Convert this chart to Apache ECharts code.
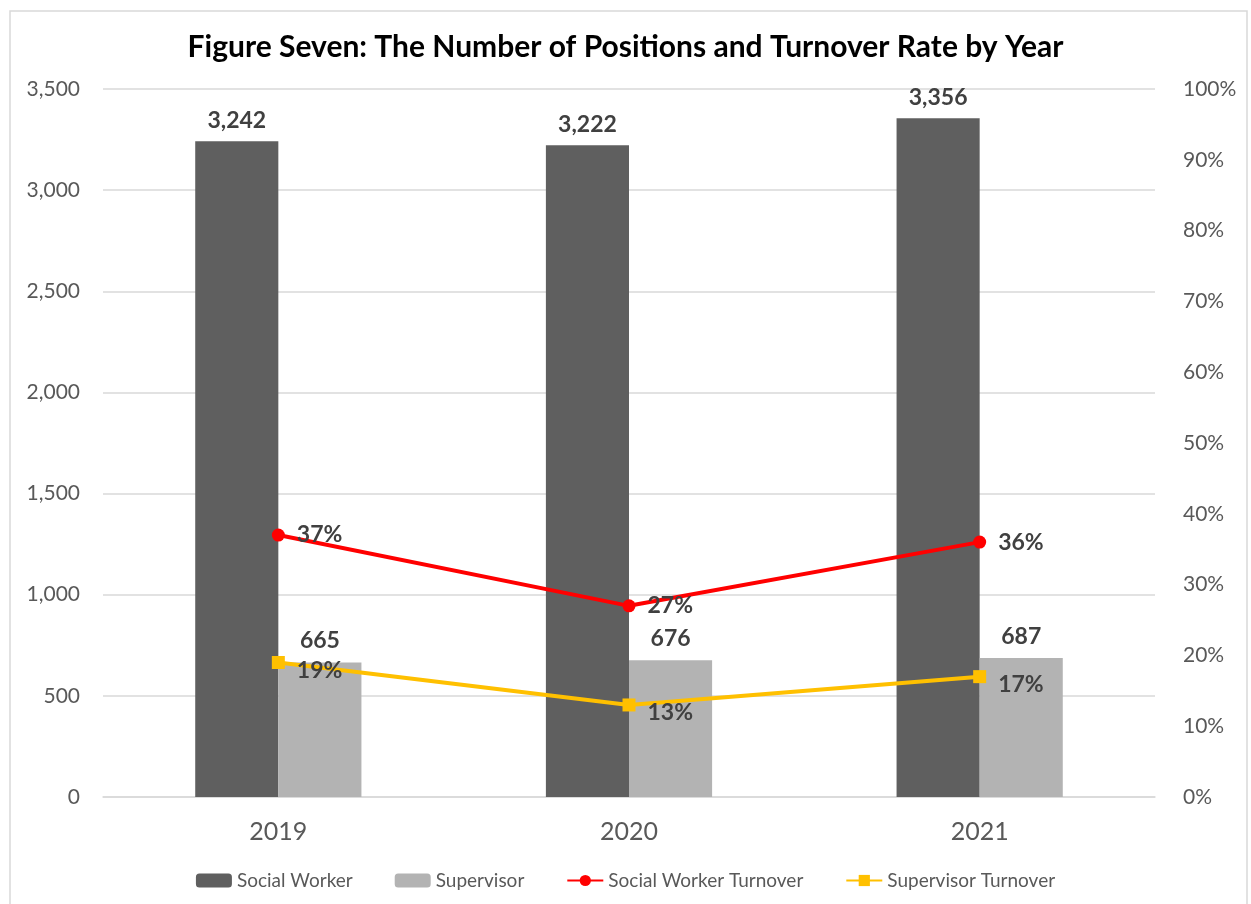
<!DOCTYPE html>
<html>
<head>
<meta charset="utf-8">
<script src="https://cdn.jsdelivr.net/npm/echarts@6/dist/echarts.min.js"></script>
<style>
  html, body { margin: 0; padding: 0; background: #fff; }
  #chart { width: 1251px; height: 904px; }
</style>
</head>
<body>
<div id="chart"></div>
<script>
// values
const years = ["2019", "2020", "2021"];
const socialWorker = [3242, 3222, 3356];
const supervisor = [665, 676, 687];
const socialWorkerTurnover = [37, 27, 36];
const supervisorTurnover = [19, 13, 17];
const leftTicks = [0, 500, 1000, 1500, 2000, 2500, 3000, 3500];
const rightTicks = [0, 10, 20, 30, 40, 50, 60, 70, 80, 90, 100];

const font = "Lato, 'Open Sans', sans-serif";
const labelColor = "#404040";
const axisColor = "#595959";

const chart = echarts.init(document.getElementById("chart"));

chart.setOption({
  animation: false,
  textStyle: { fontFamily: font },
  graphic: [{
    type: "rect",
    shape: { x: 10, y: 11, width: 1237, height: 900 },
    style: { fill: "none", stroke: "#d9d9d9", lineWidth: 1.5 },
    silent: true
  }],
  title: {
    text: "Figure Seven: The Number of Positions and Turnover Rate by Year",
    left: "center",
    top: 27,
    textStyle: { fontFamily: font, fontSize: 30, fontWeight: "bold", color: "#000" }
  },
  grid: { left: 103, right: 96, top: 89, bottom: 107 },
  legend: {
    bottom: 9,
    left: "center",
    itemWidth: 36,
    itemHeight: 14,
    itemGap: 42,
    textStyle: { color: axisColor, fontSize: 19, fontFamily: font },
    data: ["Social Worker", "Supervisor", "Social Worker Turnover", "Supervisor Turnover"]
  },
  xAxis: {
    type: "category",
    data: years,
    axisLine: { lineStyle: { color: "#d9d9d9", width: 1.5 } },
    axisTick: { show: false },
    axisLabel: { color: axisColor, fontSize: 25, margin: 22 }
  },
  yAxis: [
    {
      type: "value",
      min: leftTicks[0],
      max: leftTicks[leftTicks.length - 1],
      interval: leftTicks[1] - leftTicks[0],
      axisLine: { show: false },
      axisTick: { show: false },
      splitLine: { lineStyle: { color: "#d9d9d9", width: 1.5 } },
      axisLabel: {
        color: axisColor, fontSize: 21, margin: 23,
        formatter: v => v.toLocaleString("en-US")
      }
    },
    {
      type: "value",
      min: rightTicks[0],
      max: rightTicks[rightTicks.length - 1],
      interval: rightTicks[1] - rightTicks[0],
      axisLine: { show: false },
      axisTick: { show: false },
      splitLine: { show: false },
      axisLabel: { color: axisColor, fontSize: 21, margin: 28, formatter: "{value}%" }
    }
  ],
  series: [
    {
      name: "Social Worker",
      type: "bar",
      data: socialWorker,
      color: "#5f5f5f",
      barWidth: "23.7%",
      barGap: "0%",
      label: {
        show: true, position: "top", distance: 9,
        color: labelColor, fontSize: 23, fontWeight: "bold",
        formatter: p => p.value.toLocaleString("en-US")
      }
    },
    {
      name: "Supervisor",
      type: "bar",
      data: supervisor,
      color: "#b3b3b3",
      barWidth: "23.7%",
      label: {
        show: true, position: "top", distance: 10,
        color: labelColor, fontSize: 23, fontWeight: "bold",
        formatter: p => p.value.toLocaleString("en-US")
      }
    },
    {
      name: "Social Worker Turnover",
      type: "line",
      yAxisIndex: 1,
      data: socialWorkerTurnover,
      color: "#ff0000",
      symbol: "circle",
      symbolSize: 13,
      lineStyle: { width: 4 },
      label: {
        show: true, position: "right", distance: 12,
        color: labelColor, fontSize: 23, fontWeight: "bold",
        formatter: "{c}%"
      }
    },
    {
      name: "Supervisor Turnover",
      type: "line",
      yAxisIndex: 1,
      data: supervisorTurnover,
      color: "#ffc000",
      symbol: "rect",
      symbolSize: 13,
      lineStyle: { width: 4 },
      label: {
        show: true, position: "right", distance: 12, offset: [0, 8],
        color: labelColor, fontSize: 23, fontWeight: "bold",
        formatter: "{c}%"
      }
    }
  ]
});
</script>
</body>
</html>
